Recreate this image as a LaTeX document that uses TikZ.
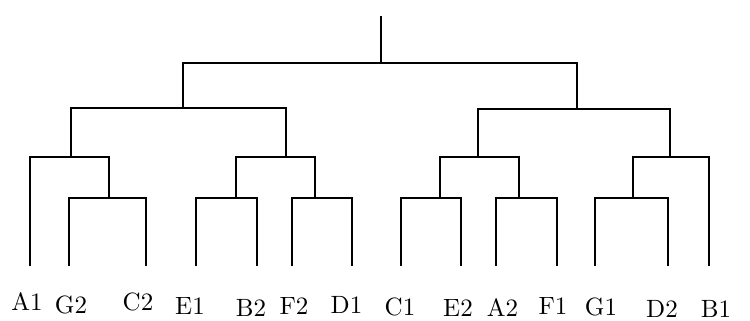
\documentclass[tikz,border=0pt]{standalone}
\usepackage{fontspec}
\setmainfont{lmroman10-regular.otf}
\begin{document}
\begin{tikzpicture}[x=1pt,y=-1pt,
  link/.style={line width=2pt,line cap=butt},
  leaflabel/.style={anchor=base,inner sep=0pt,font=\fontsize{25}{30}\selectfont}]
\useasboundingbox (0,0) rectangle (750,321);
% leaves
\coordinate (A1) at (30,266);
\coordinate (G2) at (69,266);
\coordinate (C2) at (146,266);
\coordinate (E1) at (196,266);
\coordinate (B2) at (257,266);
\coordinate (F2) at (292,266);
\coordinate (D1) at (352,266);
\coordinate (C1) at (401,266);
\coordinate (E2) at (461,266);
\coordinate (A2) at (496,266);
\coordinate (F1) at (557,266);
\coordinate (G1) at (595,266);
\coordinate (D2) at (668,266);
\coordinate (B1) at (709,266);
% merges
\coordinate (mGC) at (109,198);
\coordinate (mAGC) at (71,157);
\coordinate (mEB) at (236,198);
\coordinate (mFD) at (315,198);
\coordinate (mEBFD) at (286,157);
\coordinate (mL) at (183,108);
\coordinate (mCE) at (440,198);
\coordinate (mAF) at (519,198);
\coordinate (mCEAF) at (478,157);
\coordinate (mGD) at (633,198);
\coordinate (mGDB) at (670,157);
\coordinate (mR) at (577,109);
\coordinate (root) at (381,63);
\coordinate (top) at (381,16);
% links
\draw[link] (G2) |- (mGC) -| (C2);
\draw[link] (A1) |- (mAGC) -| (mGC);
\draw[link] (E1) |- (mEB) -| (B2);
\draw[link] (F2) |- (mFD) -| (D1);
\draw[link] (mEB) |- (mEBFD) -| (mFD);
\draw[link] (mAGC) |- (mL) -| (mEBFD);
\draw[link] (C1) |- (mCE) -| (E2);
\draw[link] (A2) |- (mAF) -| (F1);
\draw[link] (mCE) |- (mCEAF) -| (mAF);
\draw[link] (G1) |- (mGD) -| (D2);
\draw[link] (mGD) |- (mGDB) -| (B1);
\draw[link] (mCEAF) |- (mR) -| (mGDB);
\draw[link] (mL) |- (root) -| (mR);
\draw[link] (root) -- (top);
% labels
\node[leaflabel] (lA1) at (27,310.5) {A1};
\node[leaflabel] (lG2) at (71,313.5) {G2};
\node[leaflabel] (lC2) at (138,310.5) {C2};
\node[leaflabel] (lE1) at (190,314) {E1};
\node[leaflabel] (lB2) at (251,316) {B2};
\node[leaflabel] (lF2) at (294,314.5) {F2};
\node[leaflabel] (lD1) at (346.5,313) {D1};
\node[leaflabel] (lC1) at (400,315) {C1};
\node[leaflabel] (lE2) at (458,316) {E2};
\node[leaflabel] (lA2) at (502.5,316) {A2};
\node[leaflabel] (lF1) at (553,314) {F1};
\node[leaflabel] (lG1) at (601,315) {G1};
\node[leaflabel] (lD2) at (662,317.5) {D2};
\node[leaflabel] (lB1) at (716,317.5) {B1};
\end{tikzpicture}
\end{document}
